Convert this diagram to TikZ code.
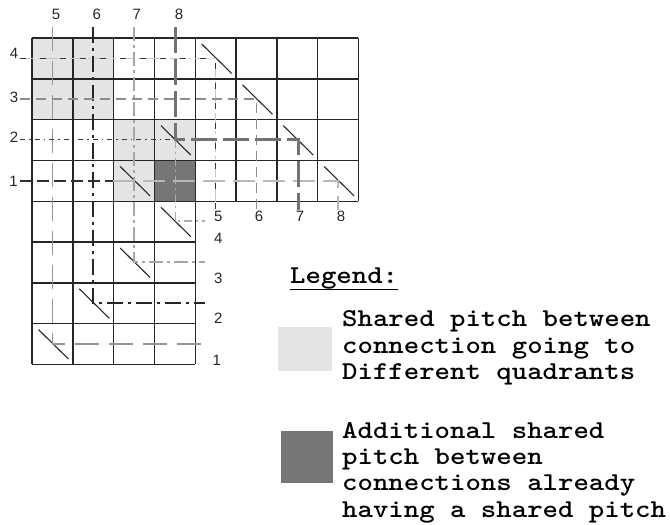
\documentclass[tikz,border=0pt]{standalone}
\usepackage{fontspec}
\usepackage{graphicx}
\setmainfont{Liberation Sans}
\definecolor{cellL}{HTML}{E4E4E4}
\definecolor{cellD}{HTML}{767676}
\newcommand{\legwide}[1]{\scalebox{1.143}[1]{#1}}
\begin{document}
\begin{tikzpicture}[x=1pt,y=-1pt,
  gridline/.style={black!85, line width=1.4pt},
  diagline/.style={black!85, line width=1.1pt},
  numlabel/.style={font=\fontsize{15}{15}\selectfont, text=black!85, inner sep=0pt},
  legtext/.style={font=\ttfamily\bfseries\fontsize{25.7}{26.4}\selectfont, inner sep=0pt, text=black},
  swatch/.style={draw=none, inner sep=0pt},
  netA/.style={draw=black!42, line width=1.5pt, dash pattern=on 24pt off 10pt},
  netB/.style={draw=black!85, line width=1.5pt, dash pattern=on 16pt off 5pt on 3pt off 5pt},
  netC/.style={draw=black!35, line width=1.5pt, dash pattern=on 14pt off 4pt on 3pt off 4pt},
  netD/.style={draw=black!55, line width=3pt, dash pattern=on 26pt off 6pt},
  netE/.style={draw=black!33, line width=1.3pt, dash pattern=on 8pt off 4pt on 2pt off 4pt},
  netFunder/.style={draw=black!22, line width=1.4pt, dash pattern=on 14pt off 4pt on 3pt off 4pt},
  netF/.style={draw=black!78, line width=1.5pt, dash pattern=on 6pt off 14pt},
  netG/.style={draw=black!45, line width=1.5pt, dash pattern=on 10pt off 6pt},
  netH/.style={draw=black!78, line width=1.3pt, dash pattern=on 5pt off 4pt on 1.5pt off 4pt},
  netIdark/.style={draw=black!82, line width=1.5pt, dash pattern=on 12pt off 5pt},
  netIlight/.style={draw=black!28, line width=1.5pt, dash pattern=on 22pt off 8pt}
]
\useasboundingbox (0,0) rectangle (670,525);

% shaded cells
\foreach \c/\r in {0/0,1/0,0/1,1/1,2/2,3/2,2/3}
  \fill[cellL] ({32+40.8*\c},{38+40.8*\r}) rectangle +(40.8,40.8);
\fill[cellD] ({32+40.8*3},{38+40.8*3}) rectangle +(40.8,40.8);

% grid
\foreach \i in {0,...,8} \draw[gridline] ({32+40.8*\i},38) -- ({32+40.8*\i},201.2);
\foreach \i in {0,...,4} \draw[gridline] ({32+40.8*\i},201.2) -- ({32+40.8*\i},364.4);
\foreach \j in {0,...,4} \draw[gridline] (32,{38+40.8*\j}) -- (358.4,{38+40.8*\j});
\foreach \j in {5,...,8} \draw[gridline] (32,{38+40.8*\j}) -- (195.2,{38+40.8*\j});

% diagonals
\foreach \c/\r in {4/0,5/1,6/2,7/3,3/2,2/3,3/4,2/5,1/6,0/7}
  \draw[diagline] ({32+40.8*\c+6.5},{38+40.8*\r+6}) -- ({32+40.8*\c+36.5},{38+40.8*\r+35.5});

% route points
\coordinate (t5) at (52.4,27);
\coordinate (t6) at (93.2,27);
\coordinate (t7) at (134,27);
\coordinate (t8) at (175.5,27);
\coordinate (l4) at (20,58.4);
\coordinate (l3) at (20,99.2);
\coordinate (l2) at (20,139.5);
\coordinate (l1) at (20,181);
\coordinate (e4) at (205,221);
\coordinate (e3) at (205,262);
\coordinate (e2) at (205,303);
\coordinate (e1) at (205,344);
\coordinate (b5) at (215.6,210);
\coordinate (b6) at (256.4,210);
\coordinate (b7) at (298,210);
\coordinate (b8) at (338,210);
\coordinate (cA) at (52.4,344);
\coordinate (cB) at (93.2,303);
\coordinate (cC) at (134,262);
\coordinate (cD1) at (175.5,139.5);
\coordinate (cD2) at (298,139.5);
\coordinate (cE) at (175.5,221);
\coordinate (cF) at (215.6,58.4);
\coordinate (cG) at (256.4,99.2);
\coordinate (cI1) at (113,181);
\coordinate (cI2) at (338,181);

% routes
\draw[netA] (t5) -- (cA) -- (e1);
\draw[netB] (t6) -- (cB) -- (e2);
\draw[netC] (t7) -- (cC) -- (e3);
\draw[netE] (cD1) -- (cE) -- (e4);
\draw[netFunder] (l4) -- (cF) -- (b5);
\draw[netF] (l4) -- (cF) -- (b5);
\draw[netG] (l3) -- (cG) -- (b6);
\draw[netH] (l2) -- (cD1);
\draw[netIdark] (l1) -- (cI1);
\draw[netIlight] (cI1) -- (cI2) -- (b8);
\draw[netD] (t8) -- (cD1) -- (cD2) -- (b7);

% labels
\node[numlabel] (nt5) at (56,14) {5};
\node[numlabel] (nt6) at (96.7,14) {6};
\node[numlabel] (nt7) at (136.7,14) {7};
\node[numlabel] (nt8) at (179,14) {8};
\node[numlabel] (nl4) at (14,53) {4};
\node[numlabel] (nl3) at (14,97) {3};
\node[numlabel] (nl2) at (14,137) {2};
\node[numlabel] (nl1) at (13.5,181) {1};
\node[numlabel] (nb5) at (218.3,216.7) {5};
\node[numlabel] (nb6) at (259,216.7) {6};
\node[numlabel] (nb7) at (300,216.7) {7};
\node[numlabel] (nb8) at (341,216.7) {8};
\node[numlabel] (nr4) at (218.3,238) {4};
\node[numlabel] (nr3) at (218.3,278.3) {3};
\node[numlabel] (nr2) at (218.3,318.3) {2};
\node[numlabel] (nr1) at (216.7,360) {1};

% legend
\node[legtext, anchor=base west] (legtitle) at (290,283) {\legwide{Legend:}};
\draw[line width=1.3pt] ([yshift=-6.3pt]legtitle.base west) -- ([yshift=-6.3pt]legtitle.base east);
\node[swatch, fill=cellL, minimum width=53.4pt, minimum height=44pt] (sw1) at (305,348.7) {};
\node[swatch, fill=cellD, minimum width=52.6pt, minimum height=51.7pt] (sw2) at (307,456.9) {};
\node[legtext, anchor=base west] (leg1) at (342,326.7) {\legwide{\begin{tabular}[t]{@{}l@{}}Shared pitch between\\connection going to\\Different quadrants\end{tabular}}};
\node[legtext, anchor=base west] (leg2) at (342,438) {\legwide{\begin{tabular}[t]{@{}l@{}}Additional shared\\pitch between\\connections already\\having a shared pitch\end{tabular}}};
\end{tikzpicture}
\end{document}
